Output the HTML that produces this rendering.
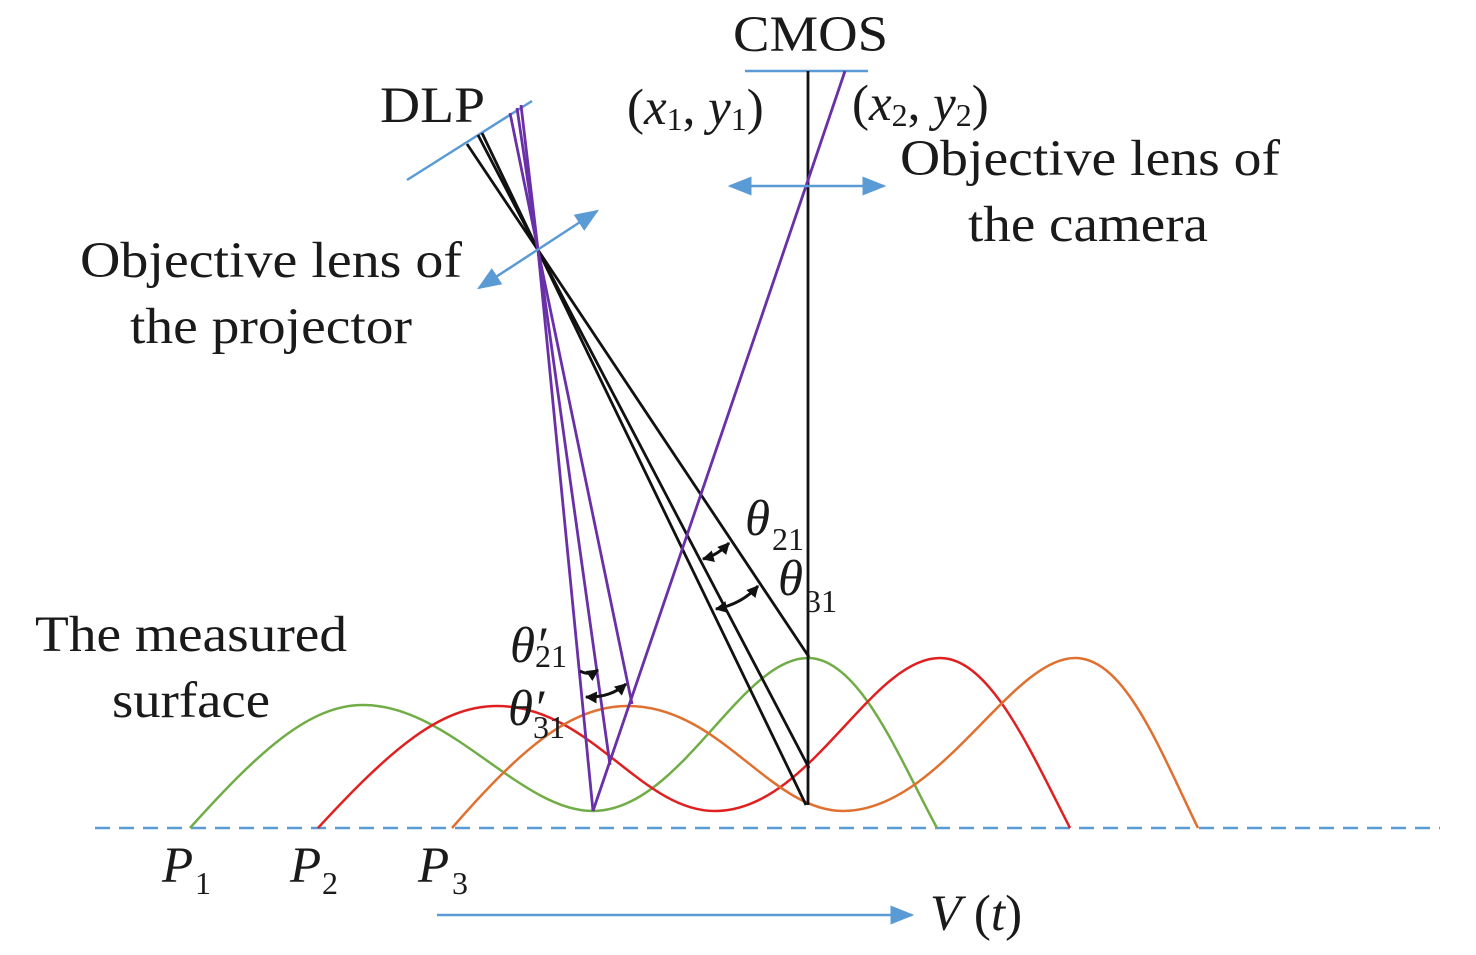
<!DOCTYPE html>
<html><head><meta charset="utf-8"><style>
html,body{margin:0;padding:0;background:#fff;}
svg{display:block;}
text{font-family:"Liberation Serif",serif;font-size:51px;fill:#1a1a1a;}
.i{font-style:italic;}
.s{font-size:32px;}
</style></head><body>
<svg width="1476" height="955" viewBox="0 0 1476 955" xmlns="http://www.w3.org/2000/svg">
<defs>
<marker id="bb" viewBox="0 0 10 10" refX="9" refY="5" markerWidth="24" markerHeight="24" markerUnits="userSpaceOnUse" orient="auto-start-reverse"><path d="M0,1L10,5L0,9z" fill="#5b9bd5"/></marker>
<marker id="ka" viewBox="0 0 10 10" refX="9" refY="5" markerWidth="12" markerHeight="12" markerUnits="userSpaceOnUse" orient="auto-start-reverse"><path d="M0,0L10,5L0,10z" fill="#111"/></marker>
</defs>
<line x1="95" y1="828" x2="1440" y2="828" stroke="#5b9bd5" stroke-width="2.5" stroke-dasharray="15,9"/>
<path d="M190,828 C260,750 310,705 363,705 C450,705 520,811 593,811 C680,811 740,658 808,658 C860,658 900,760 937,828" fill="none" stroke="#70ad47" stroke-width="2.5"/>
<path d="M318,828 C390,750 440,706 497,706 C590,706 640,811 715,811 C810,811 870,658 940,658 C990,658 1030,750 1070,828" fill="none" stroke="#e02020" stroke-width="2.5"/>
<path d="M452,828 C520,750 570,706 628,706 C720,706 770,811 843,811 C940,811 1010,658 1075,658 C1125,658 1160,750 1198,828" fill="none" stroke="#e07030" stroke-width="2.5"/>
<line x1="407" y1="180" x2="532" y2="101" stroke="#5b9bd5" stroke-width="2.5"/>
<line x1="745" y1="71" x2="868" y2="71" stroke="#5b9bd5" stroke-width="2.5"/>
<g stroke="#111" stroke-width="2.8" fill="none">
<polyline points="467,144 538,250 809,657"/>
<polyline points="478,135 538,250 809,768"/>
<polyline points="482,133 538,250 806,805"/>
<line x1="808" y1="71" x2="808" y2="805"/>
</g>
<g stroke="#6a30a8" stroke-width="2.8" fill="none">
<polyline points="510,113 538,250 593,811"/>
<polyline points="517,108 538,250 610,765"/>
<polyline points="521,105 538,250 632,704"/>
<polyline points="593,811 806,186 845,71"/>
</g>
<line x1="479" y1="288" x2="597" y2="211" stroke="#5b9bd5" stroke-width="2.5" marker-start="url(#bb)" marker-end="url(#bb)"/>
<line x1="730" y1="186" x2="884" y2="186" stroke="#5b9bd5" stroke-width="2.5" marker-start="url(#bb)" marker-end="url(#bb)"/>
<line x1="437" y1="915" x2="912" y2="915" stroke="#5b9bd5" stroke-width="2.5" marker-end="url(#bb)"/>
<g stroke="#111" stroke-width="3" fill="none">
<path d="M703,559 Q718,555 729,543" marker-start="url(#ka)" marker-end="url(#ka)"/>
<path d="M716,609 Q742,604 758,586" marker-start="url(#ka)" marker-end="url(#ka)"/>
<path d="M580,671 Q589,676 598,670" marker-end="url(#ka)"/>
<path d="M586,697 Q610,698 626,684" marker-start="url(#ka)" marker-end="url(#ka)"/>
</g>
<text x="733" y="51" textLength="155" lengthAdjust="spacingAndGlyphs">CMOS</text>
<text x="380" y="122" textLength="105" lengthAdjust="spacingAndGlyphs">DLP</text>
<text x="627" y="124">(<tspan class="i">x</tspan><tspan class="s" dy="6">1</tspan><tspan dy="-6">, </tspan><tspan class="i">y</tspan><tspan class="s" dy="6">1</tspan><tspan dy="-6">)</tspan></text>
<text x="852" y="120">(<tspan class="i">x</tspan><tspan class="s" dy="6">2</tspan><tspan dy="-6">, </tspan><tspan class="i">y</tspan><tspan class="s" dy="6">2</tspan><tspan dy="-6">)</tspan></text>
<text x="900" y="175" textLength="380" lengthAdjust="spacingAndGlyphs">Objective lens of</text>
<text x="968" y="241" textLength="240" lengthAdjust="spacingAndGlyphs">the camera</text>
<text x="80" y="277" textLength="382" lengthAdjust="spacingAndGlyphs">Objective lens of</text>
<text x="130" y="343" textLength="282" lengthAdjust="spacingAndGlyphs">the projector</text>
<text x="35" y="651" textLength="312" lengthAdjust="spacingAndGlyphs">The measured</text>
<text x="112" y="717" textLength="158" lengthAdjust="spacingAndGlyphs">surface</text>
<text x="745" y="535" class="i">θ</text><text x="772" y="550" class="s">21</text>
<text x="778" y="595" class="i">θ</text><text x="805" y="612" class="s">31</text>
<text x="510" y="662" class="i">θ′</text><text x="535" y="667" class="s">21</text>
<text x="508" y="725" class="i">θ′</text><text x="533" y="738" class="s">31</text>
<text x="162" y="882" class="i">P</text><text x="195" y="894" class="s">1</text>
<text x="290" y="882" class="i">P</text><text x="322" y="894" class="s">2</text>
<text x="418" y="882" class="i">P</text><text x="452" y="894" class="s">3</text>
<text x="930" y="930"><tspan class="i">V</tspan> (<tspan class="i">t</tspan>)</text>
</svg>
</body></html>
